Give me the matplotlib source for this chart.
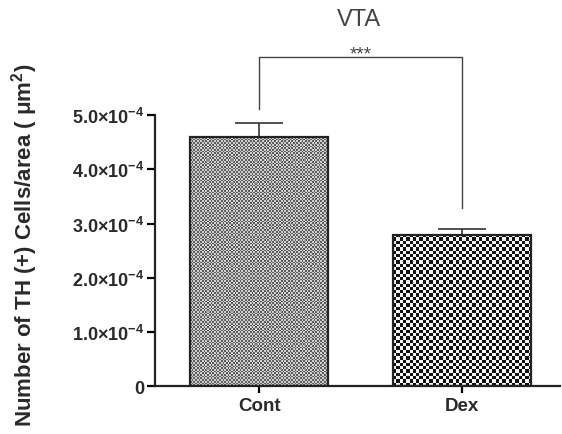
import numpy as np
import matplotlib
matplotlib.use("Agg")
import matplotlib.pyplot as plt

# Valeurs
groups = ["Cont", "Dex"]
means = [4.59e-4, 2.79e-4]
sems = [0.26e-4, 0.11e-4]
yticks = [0, 1e-4, 2e-4, 3e-4, 4e-4, 5e-4]
ytick_labels = ["0", "1.0×10$^{-4}$", "2.0×10$^{-4}$", "3.0×10$^{-4}$",
                "4.0×10$^{-4}$", "5.0×10$^{-4}$"]
signif = "***"

plt.rcParams['font.family'] = ['Liberation Sans', 'DejaVu Sans']
plt.rcParams['mathtext.fontset'] = 'custom'
plt.rcParams['mathtext.rm'] = 'Liberation Sans:bold'
plt.rcParams['mathtext.it'] = 'Liberation Sans:bold'
plt.rcParams['mathtext.bf'] = 'Liberation Sans:bold'

fig = plt.figure(figsize=(5.62, 4.35), dpi=100)
ax = fig.add_axes([0.276, 0.110, 0.72, 0.623])

x = np.arange(len(groups))
bars = ax.bar(x, means, width=0.68, color="none", edgecolor="#222222",
              linewidth=1.6, zorder=3)
ax.errorbar(x, means, yerr=[[0] * len(sems), sems], fmt="none",
            ecolor="#333333", elinewidth=1.2, capsize=17, capthick=1.2, zorder=2)

ax.set_xlim(-0.512, 1.48)
ax.set_ylim(0, 5e-4)
ax.set_yticks(yticks)
ax.set_yticklabels(ytick_labels, fontsize=13, fontweight="bold", color="#2a2a2a")
ax.set_xticks(x)
ax.set_xticklabels(groups, fontsize=13.5, fontweight="bold", color="#2a2a2a")
ax.tick_params(axis="y", direction="out", length=6, width=1.6, pad=2)
ax.tick_params(axis="x", direction="out", length=5, width=1.6, pad=3)
for s in ["top", "right"]:
    ax.spines[s].set_visible(False)
for s in ["left", "bottom"]:
    ax.spines[s].set_linewidth(1.6)
    ax.spines[s].set_color("#222222")

ax.set_ylabel("Number of TH (+) Cells/area ( μm$^{2}$)", fontsize=16,
              fontweight="bold", color="#2a2a2a")
ax.yaxis.set_label_coords(-0.285, 0.524)

# textures en damier dans les barres
fig.canvas.draw()
textures = [(1.7, "#5e5e5e", "#cfcfcf"), (3.3, "#111111", "#f4f4f4")]
for patch, (cell, dark, light) in zip(bars.patches, textures):
    bb = patch.get_window_extent()
    nx = int(round(bb.width / cell))
    ny = int(round(bb.height / cell))
    yy, xx = np.mgrid[0:ny, 0:nx]
    chk = ((xx + yy) % 2).astype(float)
    cmap = matplotlib.colors.ListedColormap([dark, light])
    x0, y0 = patch.get_x(), patch.get_y()
    im = ax.imshow(chk, cmap=cmap, interpolation="nearest", aspect="auto",
                   extent=[x0, x0 + patch.get_width(), y0, y0 + patch.get_height()],
                   zorder=2.5, origin="lower")
    im.set_clip_path(patch)
ax.set_xlim(-0.512, 1.48)
ax.set_ylim(0, 5e-4)

# crochet de significativité
top = 6.07e-4
ax.plot([x[0], x[0], x[1], x[1]], [5.11e-4, top, top, 3.28e-4],
        color="#444444", linewidth=1.0, clip_on=False)
ax.text((x[0] + x[1]) / 2, top - 0.10e-4, signif, ha="center", va="bottom",
        fontsize=13.5, color="#444444")

fig.text(0.639, 0.953, "VTA", ha="center", va="center", fontsize=17,
         color="#444444")

fig.savefig("out.png", dpi=100)
